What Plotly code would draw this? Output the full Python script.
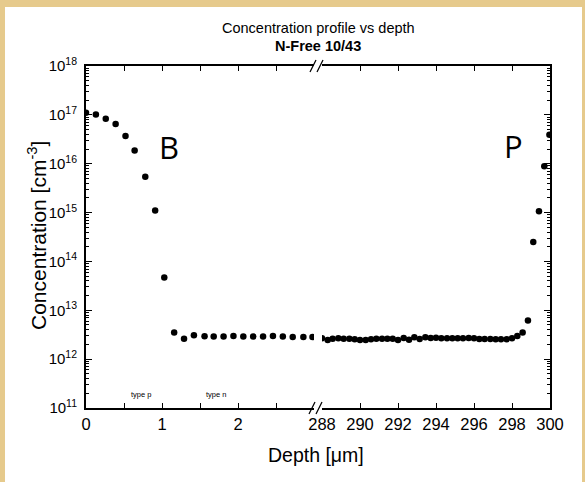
import plotly.graph_objects as go

# ---- data ----
depth_front = [0.0, 0.13, 0.26, 0.39, 0.52, 0.64, 0.78, 0.91, 1.03, 1.16, 1.29, 1.42, 1.56,
               1.68, 1.81, 1.94, 2.07, 2.20, 2.33, 2.46, 2.59, 2.72, 2.86, 2.98]
conc_front = [1.1e17, 1.02e17, 8.3e16, 6.5e16, 3.7e16, 1.86e16, 5.4e15, 1.1e15, 4.7e13, 3.5e12,
              2.6e12, 3.1e12, 2.95e12, 2.9e12, 2.9e12, 2.97e12, 2.9e12, 2.9e12, 2.9e12, 2.97e12,
              2.9e12, 2.85e12, 2.85e12, 2.85e12]

depth_back = [288.0, 288.30, 288.56, 288.86, 289.14, 289.44, 289.72, 290.0, 290.30, 290.58,
              290.86, 291.16, 291.44, 291.72, 292.0, 292.30, 292.58, 292.86, 293.14, 293.44,
              293.72, 294.0, 294.28, 294.58, 294.86, 295.14, 295.42, 295.72, 296.0, 296.28,
              296.56, 296.86, 297.14, 297.42, 297.72, 298.0, 298.28, 298.56, 298.84, 299.12,
              299.42, 299.70, 299.97]
conc_back = [2.67e12, 2.46e12, 2.62e12, 2.67e12, 2.62e12, 2.62e12, 2.54e12, 2.46e12, 2.46e12,
             2.54e12, 2.62e12, 2.62e12, 2.62e12, 2.62e12, 2.46e12, 2.71e12, 2.5e12, 2.8e12,
             2.58e12, 2.8e12, 2.71e12, 2.75e12, 2.67e12, 2.67e12, 2.67e12, 2.67e12, 2.67e12,
             2.71e12, 2.67e12, 2.58e12, 2.58e12, 2.58e12, 2.54e12, 2.54e12, 2.54e12, 2.67e12,
             2.98e12, 3.5e12, 6.2e12, 2.5e14, 1.07e15, 8.9e15, 3.9e16]

x1_tickvals = [0, 0.5, 1, 1.5, 2, 2.5]
x1_ticktext = ["0", "", "1", "", "2", ""]
x2_tickvals = [288, 290, 292, 294, 296, 298, 300]
y_tickvals = [1e11, 1e12, 1e13, 1e14, 1e15, 1e16, 1e17, 1e18]
y_ticktext = ["10<sup>%d</sup>" % e for e in range(11, 19)]

FONT = "Liberation Sans, Arial, sans-serif"
W, H = 585, 482
L, R, T, B = 86, 35, 66, 74
PW, PH = W - L - R, H - T - B


def px(x):
    return (x - L) / PW


def py(y):
    return (H - B - y) / PH


fig = go.Figure()
fig.add_trace(go.Scatter(x=depth_front, y=conc_front, mode="markers", xaxis="x", yaxis="y",
                         marker=dict(color="black", size=6.5), showlegend=False))
fig.add_trace(go.Scatter(x=depth_back, y=conc_back, mode="markers", xaxis="x2", yaxis="y2",
                         marker=dict(color="black", size=6.5), showlegend=False))
# invisible carrier so the label axis (y3) gets drawn
fig.add_trace(go.Scatter(x=depth_front, y=conc_front, mode="markers", xaxis="x", yaxis="y3",
                         marker=dict(color="rgba(0,0,0,0)", size=1), hoverinfo="skip",
                         showlegend=False))

axis_common = dict(showline=True, linecolor="black", linewidth=1.5, showgrid=False,
                   zeroline=False, ticks="inside", tickcolor="black", ticklen=5, tickwidth=1,
                   mirror="ticks", tickfont=dict(size=16.5, color="black", family=FONT))

yaxis_common = dict(type="log", range=[11, 18], domain=[0, 1], showline=True, linecolor="black",
                    linewidth=1.5, showgrid=False, zeroline=False, ticks="inside", ticklen=6,
                    tickcolor="black", tickmode="linear", tick0=0, dtick=1,
                    showticklabels=False,
                    minor=dict(ticks="inside", ticklen=3, tickcolor="black", dtick="D1",
                               showgrid=False))

left_end = (314 - L) / PW
right_start = (322 - L) / PW

fig.update_layout(
    width=W, height=H,
    margin=dict(l=L, r=R, t=T, b=B, pad=0),
    paper_bgcolor="#E6CA8C",
    plot_bgcolor="white",
    font=dict(family=FONT, color="black"),
    xaxis=dict(domain=[0, left_end], range=[0, 3.0], anchor="y",
               tickmode="array", tickvals=x1_tickvals, ticktext=x1_ticktext, **axis_common),
    xaxis2=dict(domain=[right_start, 1], range=[288, 300], anchor="y2",
                tickmode="array", tickvals=x2_tickvals, **axis_common),
    yaxis=dict(anchor="x", **yaxis_common),
    yaxis2=dict(anchor="x2", side="right", matches="y", **yaxis_common),
    yaxis3=dict(type="log", range=[11, 18], domain=[0, 1], anchor="x", overlaying="y",
                side="left", showline=False, showgrid=False, zeroline=False, ticks="",
                tickmode="array", tickvals=y_tickvals, ticktext=y_ticktext,
                ticklabelstandoff=8,
                tickfont=dict(size=15, color="black", family=FONT)),
)

shapes = [
    dict(type="rect", xref="paper", yref="paper", x0=px(5), x1=px(582), y0=py(7), y1=py(700),
         fillcolor="white", line=dict(width=0), layer="below"),
]
for (xa, ya, xb, yb) in [(309, 414, 315, 402), (316, 414, 322, 402),
                         (310, 72, 316, 60), (317, 72, 323, 60)]:
    shapes.append(dict(type="line", xref="paper", yref="paper", x0=px(xa), y0=py(ya),
                       x1=px(xb), y1=py(yb), line=dict(color="black", width=1.3)))
fig.update_layout(shapes=shapes)

annots = [
    dict(text="Concentration profile vs depth", x=px(318), y=py(28), size=14.5, fam=FONT, angle=0),
    dict(text="<b>N-Free 10/43</b>", x=px(318), y=py(46), size=14.5, fam=FONT, angle=0),
    dict(text="Depth [\u03bcm]", x=px(316), y=py(455), size=19.5, fam=FONT, angle=0),
    dict(text="Concentration [cm<sup>-3</sup>]", x=px(37), y=py(236), size=21, fam=FONT, angle=-90),
    dict(text="B", x=px(169), y=py(147), size=31, fam="Open Sans, sans-serif", angle=0),
    dict(text="P", x=px(513), y=py(146), size=31, fam="Open Sans, sans-serif", angle=0),
    dict(text="type p", x=px(141), y=py(394), size=7.5, fam=FONT, angle=0),
    dict(text="type n", x=px(216), y=py(394), size=7.5, fam=FONT, angle=0),
]
fig.update_layout(annotations=[
    dict(text=a["text"], x=a["x"], y=a["y"], xref="paper", yref="paper", showarrow=False,
         xanchor="center", yanchor="middle", textangle=a["angle"],
         font=dict(size=a["size"], family=a["fam"], color="black"))
    for a in annots
])

fig.write_html("out.html")
